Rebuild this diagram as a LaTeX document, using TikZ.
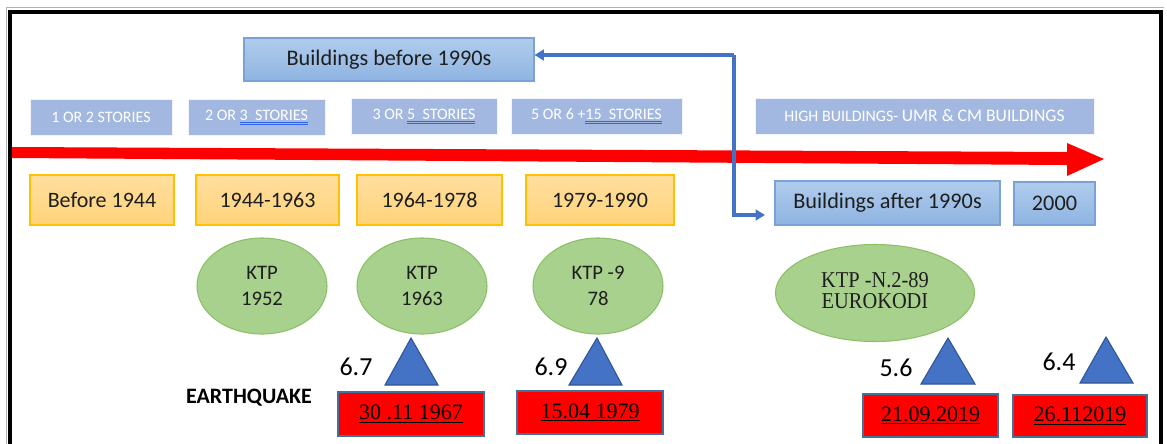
\documentclass[tikz,border=0pt]{standalone}
\usepackage{fontspec}
\setmainfont{Carlito}
\newfontfamily\serifft{Liberation Serif}
\newfontfamily\serifcond[FakeStretch=0.9]{Liberation Serif}
\usetikzlibrary{shapes.geometric,arrows.meta}
\definecolor{storblue}{RGB}{163,184,224}
\definecolor{bbtop}{RGB}{176,204,236}
\definecolor{bbbot}{RGB}{142,180,226}
\definecolor{bbdraw}{RGB}{122,162,214}
\definecolor{ortop}{RGB}{255,222,158}
\definecolor{orbot}{RGB}{255,211,122}
\definecolor{ordraw}{RGB}{255,192,0}
\definecolor{kgreen}{RGB}{169,209,142}
\definecolor{kdraw}{RGB}{140,192,100}
\definecolor{triblue}{RGB}{68,114,196}
\definecolor{tridraw}{RGB}{47,85,151}
\definecolor{datedraw}{RGB}{65,113,156}
\definecolor{connblue}{RGB}{68,114,196}
\definecolor{ulblue}{RGB}{50,100,235}
\definecolor{txt}{RGB}{30,30,30}
\newcommand\blueul[1]{\setbox0\hbox{#1}\rlap{\color{ulblue}\rule[-1.8pt]{\wd0}{0.4pt}}\rlap{\color{ulblue}\rule[-2.8pt]{\wd0}{0.4pt}}\box0}
\begin{document}
\begin{tikzpicture}[x=0.75pt,y=-0.75pt,
  stor/.style={fill=storblue, draw=white!85!storblue, line width=0.5pt, text=white, font=\fontsize{12}{14}\selectfont, inner sep=0pt, minimum height=27pt},
  bblue/.style={top color=bbtop, bottom color=bbbot, draw=bbdraw, line width=0.8pt, text=txt, font=\fontsize{16.7}{19}\selectfont, inner sep=0pt},
  orbox/.style={top color=ortop, bottom color=orbot, draw=ordraw, line width=0.8pt, text=txt, font=\fontsize{16.5}{19}\selectfont, inner sep=0pt, minimum height=37.5pt},
  ktp/.style={ellipse, fill=kgreen, draw=kdraw, line width=0.8pt, align=center, text=txt, font=\fontsize{15.5}{20}\selectfont, inner sep=0pt, minimum width=97.5pt, minimum height=72pt},
  tri/.style={fill=triblue, draw=tridraw, line width=0.8pt, line join=miter},
  mag/.style={font=\fontsize{19.5}{22}\selectfont, text=black, inner sep=0pt},
  datebox/.style={fill=red, draw=datedraw, line width=1.3pt, text=black, font=\serifft\fontsize{16.5}{19}\selectfont, inner sep=0pt},
  conn/.style={draw=connblue, line width=2.3pt, -{Triangle[length=7pt,width=8pt]}}
]
\useasboundingbox (0,0) rectangle (1167,443);
\fill[white] (0,0) rectangle (1167,443);
% frame
\draw[gray!60, line width=0.6pt] (6,460) -- (6,7) -- (1164,7);
\draw[black, line width=3.6pt] (10,460) -- (10,12) -- (1161,12) -- (1161,460);
% red time arrow
\fill[red] (12,147) -- (1067,152) -- (1067,143) -- (1104,159) -- (1067,176) -- (1067,165) -- (12,158) -- cycle;
% top box
\node[bblue, minimum width=217.5pt, minimum height=32.25pt] (bb) at (389,59.5) {Buildings before 1990s};
% stories
\node[stor, minimum width=106.5pt] (s1) at (101,117) {1 OR 2 STORIES};
\node[stor, minimum width=102.75pt] (s2) at (256.5,117) {2 OR \blueul{3\ \ STORIES}};
\node[stor, minimum width=109.5pt] (s3) at (424,116) {3 OR \blueul{5\ \ STORIES}};
\node[stor, minimum width=128.25pt] (s4) at (596.5,116) {5 OR 6 +\blueul{15\ \ STORIES}};
\node[stor, minimum width=254.25pt] (hb) at (924.5,116) {HIGH BUILDINGS- {\fontsize{13.2}{14}\selectfont UMR \& CM BUILDINGS}};
% periods
\node[orbox, minimum width=108pt] (o1) at (102,200) {Before 1944};
\node[orbox, minimum width=107.25pt] (o2) at (267.5,200) {1944-1963};
\node[orbox, minimum width=108.75pt] (o3) at (429.5,200) {1964-1978};
\node[orbox, minimum width=111pt] (o4) at (600,200) {1979-1990};
\node[bblue, minimum width=168.75pt, minimum height=33pt] (ba) at (887.5,203) {Buildings after 1990s};
\node[bblue, minimum width=60.75pt, minimum height=32.25pt] (y2000) at (1054.5,203.5) {2000};
% connectors
\coordinate (j) at (734,55);
\coordinate (k) at (765,215);
\draw[conn] (j) -- (j -| bb.east);
\draw[conn] (j) |- (k);
% codes
\node[ktp] (e1) at (262,286) {KTP\\1952};
\node[ktp] (e2) at (422,286) {KTP\\1963};
\node[ktp] (e3) at (598,286) {KTP -9\\78};
\node[ktp, minimum width=149.25pt, minimum height=72.75pt] (e4) at (875,293) {};
\node[align=center, text=txt, font=\serifcond\fontsize{17}{15.75}\selectfont, inner sep=0pt] (e4t) at (875,291) {KTP -N.2-89\\EUROKODI};
% earthquakes
\draw[tri] (411,338) -- (438,385) -- (385,385) -- cycle;
\draw[tri] (597,338) -- (622,385) -- (569,385) -- cycle;
\draw[tri] (948,338) -- (975,384) -- (921,384) -- cycle;
\draw[tri] (1106,337) -- (1133,383) -- (1080,383) -- cycle;
\node[mag] (m1) at (356,367) {6.7};
\node[mag] (m2) at (551,367) {6.9};
\node[mag] (m3) at (896,368) {5.6};
\node[mag] (m4) at (1059,362) {6.4};
\node[font=\bfseries\fontsize{16.5}{18}\selectfont, text=black, inner sep=0pt] (eq) at (249,398) {EARTHQUAKE};
\node[datebox, minimum width=109.5pt, minimum height=33pt] (d1) at (411,414) {\underline{30 .11 1967}};
\node[datebox, minimum width=109.5pt, minimum height=32.25pt] (d2) at (590,412.5) {\underline{15.04 1979}};
\node[datebox, minimum width=101.25pt, minimum height=32.25pt] (d3) at (930.5,415.5) {\underline{21.09.2019}};
\node[datebox, minimum width=100.5pt, minimum height=31.5pt] (d4) at (1080,416) {\underline{26.112019}};
\end{tikzpicture}
\end{document}
